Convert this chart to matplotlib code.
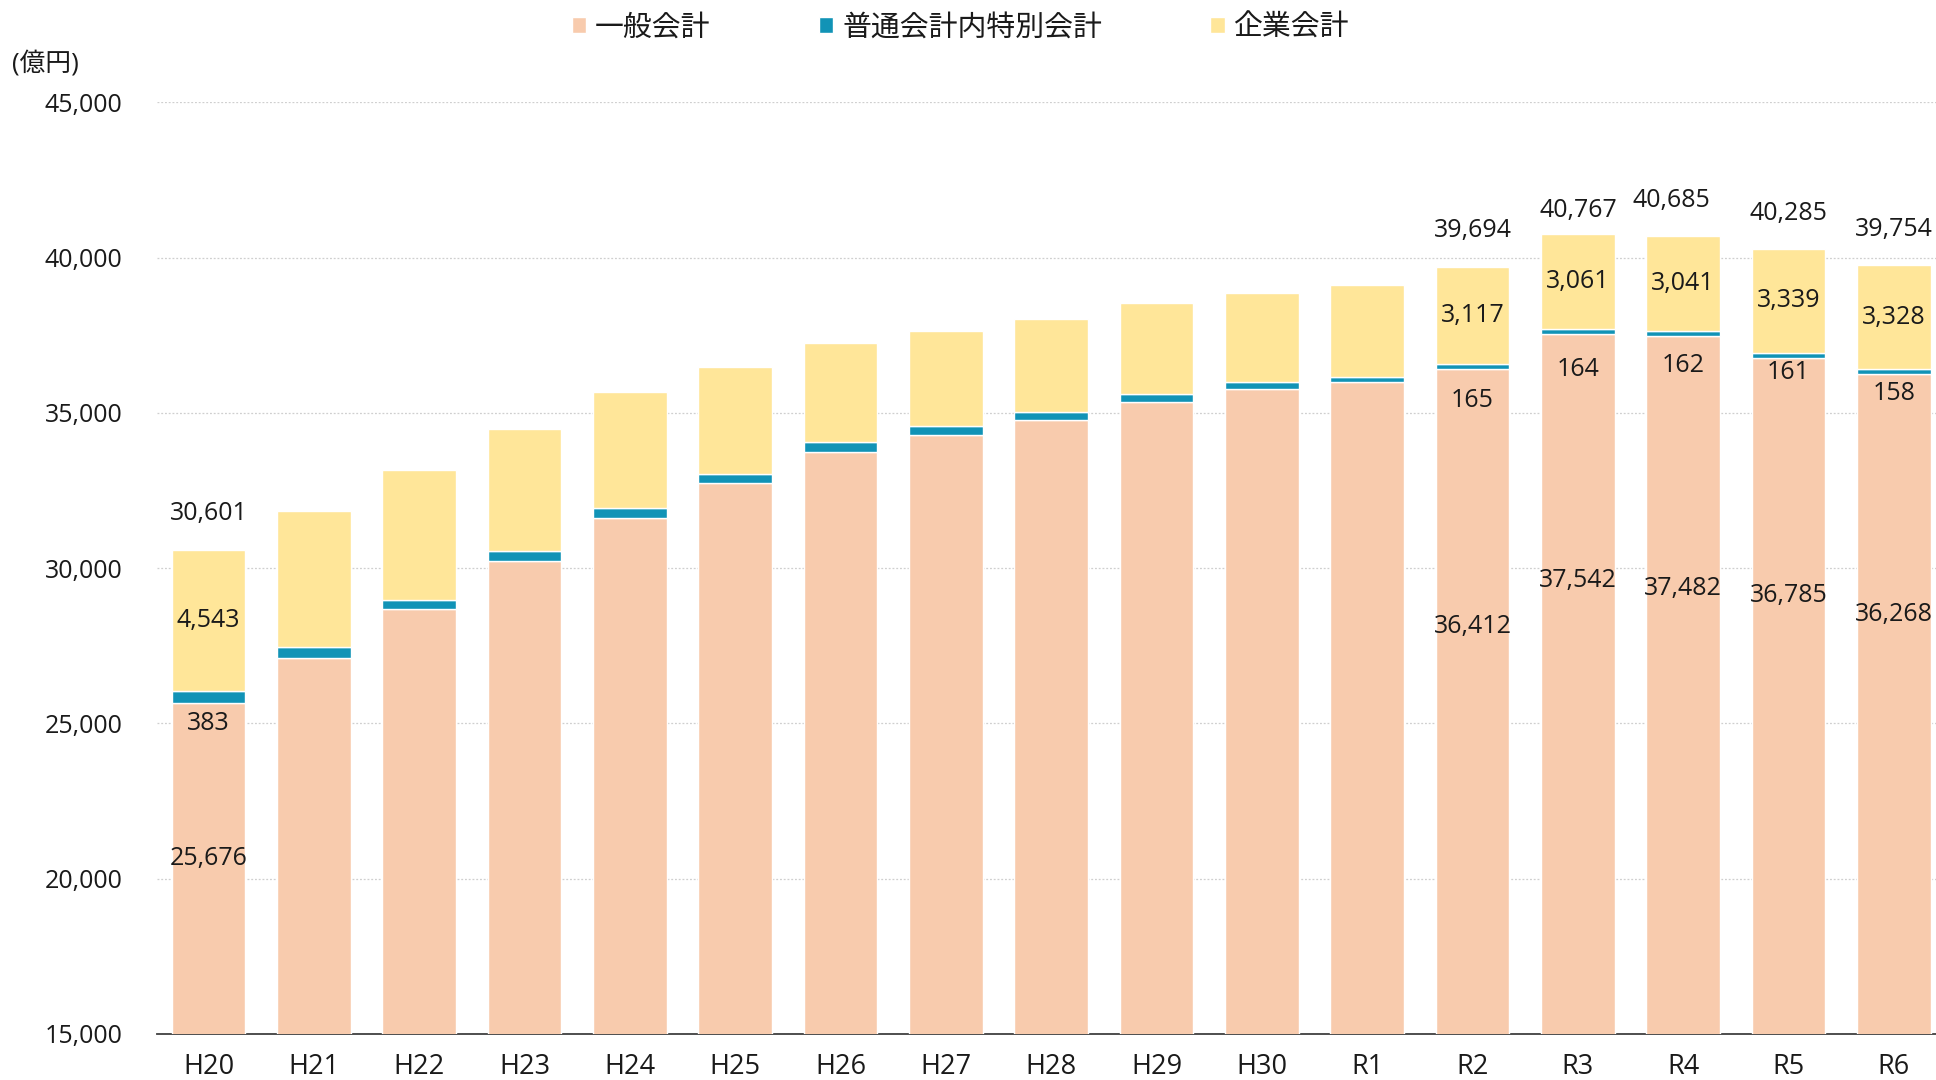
import matplotlib
matplotlib.use("Agg")
import matplotlib.pyplot as plt
import numpy as np

plt.rcParams['font.family'] = ['Open Sans', 'Noto Sans CJK JP', 'DejaVu Sans']

years = ["H20", "H21", "H22", "H23", "H24", "H25", "H26", "H27", "H28",
         "H29", "H30", "R1", "R2", "R3", "R4", "R5", "R6"]
general = [25676, 27095, 28686, 30244, 31631, 32740, 33740, 34276, 34760,
           35353, 35760, 36000, 36412, 37542, 37482, 36785, 36268]
special = [383, 355, 300, 303, 313, 300, 310, 313, 271,
           246, 226, 160, 165, 164, 162, 161, 158]
enterprise = [4543, 4397, 4193, 3945, 3719, 3429, 3206, 3042, 2999,
              2935, 2883, 2955, 3117, 3061, 3041, 3339, 3328]
totals = [30601, 31847, 33179, 34492, 35663, 36469, 37256, 37631, 38030,
          38534, 38869, 39115, 39694, 40767, 40685, 40285, 39754]
labeled = [0, 12, 13, 14, 15, 16]   # bars carrying value labels

series_names = ["一般会計", "普通会計内特別会計", "企業会計"]
colors = ["#F8CBAD", "#1193B6", "#FFE699"]

# label placement (pixels / data units) for labeled bars
total_off = [36, 36.6, 23.5, 35.5, 35.6, 36]
total_dx = [0, 0, 0, -12, 0, 0]
special_off = [21, 31, 35, 30, 15, 20]
general_lab_y = [20650, 28137, 29605, 29363, 29137, 28524]

W, H, DPI = 1936, 1080, 100
fig = plt.figure(figsize=(W / DPI, H / DPI), dpi=DPI)
ax = fig.add_axes([157 / W, 1 - 1034 / H, 1 - 157 / W, (1034 - 102.5) / H])

x = np.arange(len(years))
g = np.array(general)
s = np.array(special)
e = np.array(enterprise)
bw = 0.70
b1 = ax.bar(x, g, bw, color=colors[0], edgecolor="white", linewidth=1.0, label=series_names[0], zorder=3)
b2 = ax.bar(x, s, bw, bottom=g, color=colors[1], edgecolor="white", linewidth=1.0, label=series_names[1], zorder=3)
b3 = ax.bar(x, e, bw, bottom=g + s, color=colors[2], edgecolor="white", linewidth=1.0, label=series_names[2], zorder=3)

ax.set_ylim(15000, 45000)
ax.set_xlim(-0.49, len(years) - 1 + 0.40)
ax.set_yticks(np.arange(15000, 45001, 5000))
ax.yaxis.set_major_formatter(matplotlib.ticker.FuncFormatter(lambda v, p: f"{int(v):,}"))
ax.set_xticks(x)
ax.set_xticklabels(years)
ax.tick_params(axis="both", length=0, colors="#1a1a1a")
ax.tick_params(axis="y", pad=25, labelsize=18)
ax.tick_params(axis="x", pad=14, labelsize=19.5)
for sp in ["top", "right", "left"]:
    ax.spines[sp].set_visible(False)
ax.spines["bottom"].set_color("#404040")
ax.spines["bottom"].set_linewidth(1.3)
ax.yaxis.grid(True, linestyle=(0, (1.5, 1.5)), color="#cfcfcf", linewidth=0.9, zorder=0)
ax.set_axisbelow(True)

fs = 18
for k, i in enumerate(labeled):
    top = g[i] + s[i] + e[i]
    ax.annotate(f"{totals[i]:,}", (x[i], top), xytext=(total_dx[k] * 72 / DPI, total_off[k] * 72 / DPI),
                textcoords="offset points", ha="center", va="center", fontsize=fs, color="#1a1a1a", zorder=5)
    ax.text(x[i], g[i] + s[i] + e[i] / 2, f"{enterprise[i]:,}", ha="center", va="center",
            fontsize=fs, color="#1a1a1a", zorder=5)
    ax.annotate(f"{special[i]:,}", (x[i], g[i]), xytext=(0, -special_off[k] * 72 / DPI),
                textcoords="offset points", ha="center", va="center", fontsize=fs, color="#1a1a1a", zorder=5)
    ax.text(x[i], general_lab_y[k], f"{general[i]:,}", ha="center", va="center",
            fontsize=fs, color="#1a1a1a", zorder=5)

fig.text(12 / W, 1 - 64 / H, "(億円)", ha="left", va="center", fontsize=18.5, color="#1a1a1a")

leg = fig.legend(handles=[b1, b2, b3], labels=series_names, loc="center left",
                 bbox_to_anchor=(572 / W, 1 - 28 / H), ncol=3, frameon=False,
                 fontsize=20.8, handlelength=0.5, handleheight=0.5, handletextpad=0.3,
                 columnspacing=3.75, borderaxespad=0, borderpad=0)
for t in leg.get_texts():
    t.set_color("#1a1a1a")

fig.savefig("out.png", dpi=DPI)
